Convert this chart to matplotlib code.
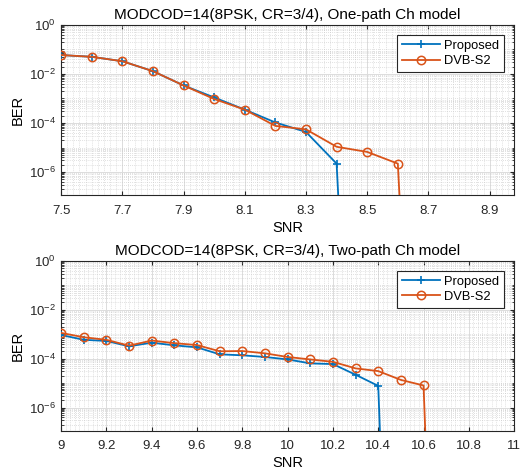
"""
BER vs SNR, MODCOD=14 (8PSK, CR=3/4): one-path and two-path channel models
"""

import matplotlib
matplotlib.use("Agg")
import matplotlib.pyplot as plt
import numpy as np
from matplotlib.ticker import FixedLocator, MultipleLocator, NullFormatter

plt.rcParams.update({
    "font.family": ["Liberation Sans", "DejaVu Sans"],
    "font.size": 9,
    "axes.edgecolor": "#262626",
    "xtick.color": "#262626",
    "ytick.color": "#262626",
    "mathtext.default": "regular",
})

BLUE = "#0072BD"
ORANGE = "#D95319"
ZERO_BER = 1e-30  # no errors counted -> drops off the bottom of the log axis

# one-path channel
snr_one = [7.5, 7.6, 7.7, 7.8, 7.9, 8.0, 8.1, 8.2, 8.3, 8.4, 8.5, 8.6, 8.7]
ber_one_proposed = [0.059, 0.05, 0.033, 0.013, 0.0034, 1.1e-3, 3.5e-4, 1.05e-4,
                    4.3e-5, 2.2e-6, ZERO_BER]
ber_one_dvbs2 = [0.059, 0.05, 0.033, 0.013, 0.0034, 9.5e-4, 3.5e-4, 7.6e-5,
                 5.5e-5, 1.07e-5, 6.6e-6, 2.2e-6, ZERO_BER]

# two-path channel
snr_two = [9.0, 9.1, 9.2, 9.3, 9.4, 9.5, 9.6, 9.7, 9.8, 9.9, 10.0,
           10.1, 10.2, 10.3, 10.4, 10.5, 10.6, 10.7]
ber_two_proposed = [9.3e-4, 5.9e-4, 5.3e-4, 3.2e-4, 4.5e-4, 3.5e-4, 2.9e-4,
                    1.5e-4, 1.37e-4, 1.17e-4, 9.3e-5, 6.4e-5, 6.0e-5, 2.2e-5,
                    7.7e-6, ZERO_BER]
ber_two_dvbs2 = [1.13e-3, 7.5e-4, 5.9e-4, 3.4e-4, 5.5e-4, 4.3e-4, 3.6e-4,
                 2.0e-4, 2.05e-4, 1.65e-4, 1.17e-4, 9.3e-5, 7.4e-5, 4.0e-5,
                 3.1e-5, 1.35e-5, 8.0e-6, ZERO_BER]

panels = [
    ("MODCOD=14(8PSK, CR=3/4), One-path Ch model", snr_one,
     ber_one_proposed, ber_one_dvbs2, (7.5, 8.98), np.arange(7.5, 8.95, 0.2)),
    ("MODCOD=14(8PSK, CR=3/4), Two-path Ch model", snr_two,
     ber_two_proposed, ber_two_dvbs2, (9.0, 11.0), np.arange(9.0, 11.05, 0.2)),
]


def fmt_tick(v):
    s = f"{v:.1f}"
    return s[:-2] if s.endswith(".0") else s


def main():
    fig = plt.figure(figsize=(5.22, 4.70), dpi=100)
    rects = [[0.117, 0.585, 0.868, 0.362], [0.117, 0.084, 0.868, 0.361]]

    for rect, (title, snr, ber_p, ber_d, xlim, xticks) in zip(rects, panels):
        ax = fig.add_axes(rect)
        ax.plot(snr[:len(ber_p)], ber_p, color=BLUE, lw=1.3, marker="+",
                ms=6, mew=1.2, label="Proposed", zorder=3)
        ax.plot(snr[:len(ber_d)], ber_d, color=ORANGE, lw=1.3, marker="o",
                ms=6, mfc="none", mew=1.1, label="DVB-S2", zorder=4)

        ax.set_yscale("log")
        ax.set_ylim(1.15e-7, 1.0)
        ax.set_xlim(*xlim)

        ax.xaxis.set_major_locator(FixedLocator(xticks))
        ax.set_xticklabels([fmt_tick(v) for v in xticks])
        ax.xaxis.set_minor_locator(MultipleLocator(0.02))

        ax.yaxis.set_major_locator(FixedLocator([1e-6, 1e-4, 1e-2, 1e0]))
        ax.set_yticklabels([r"$10^{-6}$", r"$10^{-4}$", r"$10^{-2}$", r"$10^{0}$"])
        minor = [m * 10.0 ** e for e in range(-8, 1) for m in range(1, 10)
                 if not (m == 1 and e % 2 == 0)]
        ax.yaxis.set_minor_locator(FixedLocator(minor))
        ax.yaxis.set_minor_formatter(NullFormatter())

        ax.tick_params(which="both", direction="in", top=True, right=True,
                       labelsize=9.5)
        ax.tick_params(which="major", length=3)
        ax.tick_params(which="minor", length=1.8)
        ax.tick_params(axis="x", which="minor", length=0)
        ax.tick_params(axis="x", which="major", pad=7)

        ax.grid(True, which="major", color="#dcdcdc", lw=0.7)
        ax.grid(True, which="minor", color="#c4c4c4", lw=0.5, ls=(0, (1, 2)))
        ax.set_axisbelow(True)

        ax.set_title(title, fontsize=11, pad=4)
        ax.set_xlabel("SNR", fontsize=10.5, labelpad=3)
        ax.set_ylabel("BER", fontsize=10.5, labelpad=3)

        leg = ax.legend(loc="upper right", fontsize=9.3, fancybox=False,
                        framealpha=1, edgecolor="#262626", handlelength=3.0,
                        borderaxespad=0.8, borderpad=0.35, labelspacing=0.25,
                        handletextpad=0.3)
        leg.get_frame().set_linewidth(0.8)

    fig.savefig("out.png", dpi=100)
    plt.close(fig)


if __name__ == "__main__":
    main()
